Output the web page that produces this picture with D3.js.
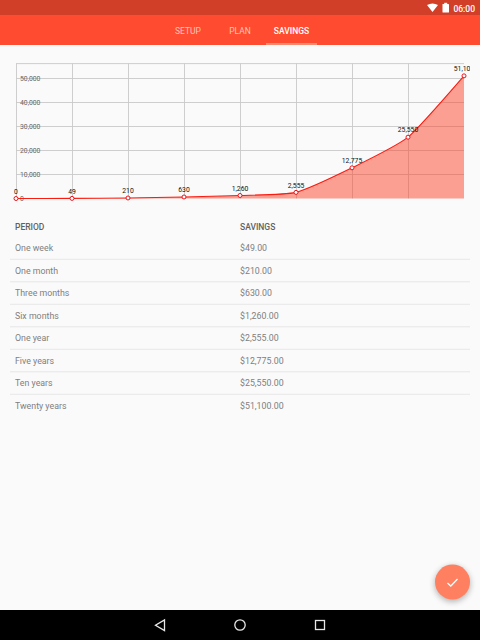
<!DOCTYPE html>
<html>
<head>
<meta charset="utf-8">
<script src="https://cdnjs.cloudflare.com/ajax/libs/d3/7.8.5/d3.min.js"></script>
<style>
html, body { margin: 0; padding: 0; background: #fafafa; overflow: hidden; }
text { font-family: Roboto, sans-serif; }
</style>
</head>
<body>
<div id="chart"></div>
<script>
var points = ["start", "week", "month", "three", "six", "year", "five", "ten", "twenty"];
var savings = [0, 49, 210, 630, 1260, 2555, 12775, 25550, 51100];
var yTicks = [0, 10000, 20000, 30000, 40000, 50000];
var periods = ["One week", "One month", "Three months", "Six months", "One year", "Five years", "Ten years", "Twenty years"];
var amounts = ["$49.00", "$210.00", "$630.00", "$1,260.00", "$2,555.00", "$12,775.00", "$25,550.00", "$51,100.00"];
var tabs = ["SETUP", "PLAN", "SAVINGS"];

var svg = d3.select("#chart").append("svg")
  .attr("width", 480).attr("height", 640)
  .style("display", "block");

var defs = svg.append("defs");
var blur = defs.append("filter").attr("id", "shadow")
  .attr("x", "-50%").attr("y", "-50%").attr("width", "200%").attr("height", "200%");
blur.append("feGaussianBlur").attr("stdDeviation", 3);
defs.append("clipPath").attr("id", "labelClip")
  .append("rect").attr("x", 0).attr("y", 50).attr("width", 470).attr("height", 160);

//status bar and tabs
svg.append("rect").attr("width", 480).attr("height", 15).attr("fill", "#d23f28");
svg.append("rect").attr("y", 15).attr("width", 480).attr("height", 30).attr("fill", "#ff4b30");
svg.append("rect").attr("x", 266).attr("y", 43).attr("width", 51).attr("height", 2).attr("fill", "#ff8a70");

var tabX = d3.scaleOrdinal().domain(tabs).range([188, 240, 291.5]);
svg.selectAll(".tab").data(tabs).enter().append("text")
  .attr("class", "tab")
  .attr("x", function(d) { return tabX(d); })
  .attr("y", 33.5)
  .attr("text-anchor", "middle")
  .attr("font-size", 8.5)
  .attr("font-weight", function(d) { return d == "SAVINGS" ? 500 : 400; })
  .attr("fill", function(d) { return d == "SAVINGS" ? "#fff" : "#ffc4b8"; })
  .text(function(d) { return d; });

//wifi + battery + clock
svg.append("path").attr("d", "M427 5 Q432.5 1.8 438 5 L432.5 12 Z").attr("fill", "#fff");
svg.append("rect").attr("x", 442.5).attr("y", 4).attr("width", 6.5).attr("height", 8.5).attr("rx", 0.6).attr("fill", "#fff");
svg.append("rect").attr("x", 444.2).attr("y", 2.8).attr("width", 3).attr("height", 1.5).attr("fill", "#fff");
svg.append("text").attr("x", 475).attr("y", 11.5).attr("text-anchor", "end")
  .attr("font-size", 8.5).attr("font-weight", 500).attr("fill", "#fff").text("06:00");

//chart
var x = d3.scalePoint().domain(points).range([16, 464]);
var y = d3.scaleLinear().domain([0, 56210]).range([198.5, 63.6]);

var grid = svg.append("g").attr("stroke", "#c8c8c8").attr("stroke-width", 0.9);
grid.selectAll(".v").data(points.slice(0, 8)).enter().append("line")
  .attr("x1", function(d) { return x(d) + 0.5; }).attr("x2", function(d) { return x(d) + 0.5; })
  .attr("y1", y(56210)).attr("y2", y(0));
grid.selectAll(".h").data(yTicks.slice(1)).enter().append("line")
  .attr("x1", 16).attr("x2", 464)
  .attr("y1", function(d) { return y(d); }).attr("y2", function(d) { return y(d); });
grid.append("line").attr("x1", 16).attr("x2", 464).attr("y1", y(56210)).attr("y2", y(56210));

var fmt = d3.format(",");

svg.selectAll(".ytick").data(yTicks).enter().append("text")
  .attr("class", "ytick")
  .attr("x", 20).attr("y", function(d) { return y(d) + 2.3; })
  .attr("font-size", 6.8).attr("fill", "#666")
  .text(function(d) { return fmt(d); });

var curve = d3.curveCardinal.tension(0.45);
var area = d3.area()
  .x(function(d, i) { return x(points[i]); })
  .y0(y(0))
  .y1(function(d) { return Math.min(y(d), y(0)); })
  .curve(curve);
var line = d3.line()
  .x(function(d, i) { return x(points[i]); })
  .y(function(d) { return y(d); })
  .curve(curve);

svg.append("path").attr("d", area(savings)).attr("fill", "rgba(255,60,35,0.48)");
svg.append("path").attr("d", line(savings)).attr("fill", "none").attr("stroke", "#fa1c10").attr("stroke-width", 1.1);

svg.selectAll(".pt").data(savings).enter().append("circle")
  .attr("class", "pt")
  .attr("cx", function(d, i) { return x(points[i]); })
  .attr("cy", function(d) { return y(d); })
  .attr("r", 2)
  .attr("fill", "#fff").attr("stroke", "#e8141a").attr("stroke-width", 1);

svg.append("g").attr("clip-path", "url(#labelClip)")
  .selectAll(".val").data(savings).enter().append("text")
  .attr("class", "val")
  .attr("x", function(d, i) { return x(points[i]); })
  .attr("y", function(d) { return y(d) - 4.8; })
  .attr("text-anchor", "middle")
  .attr("font-size", 6.8).attr("fill", "#111")
  .text(function(d) { return fmt(d); });

//table
var rowY = d3.scalePoint().domain(periods).range([248, 405.5]);

svg.append("text").attr("x", 15).attr("y", 229.5).attr("font-size", 8.5).attr("font-weight", 500).attr("fill", "#616161").text("PERIOD");
svg.append("text").attr("x", 240).attr("y", 229.5).attr("font-size", 8.5).attr("font-weight", 500).attr("fill", "#616161").text("SAVINGS");

svg.selectAll(".period").data(periods).enter().append("text")
  .attr("class", "period")
  .attr("x", 15).attr("y", function(d) { return rowY(d) + 3.2; })
  .attr("font-size", 8.8).attr("fill", "#808080")
  .text(function(d) { return d; });

svg.selectAll(".amount").data(amounts).enter().append("text")
  .attr("class", "amount")
  .attr("x", 240).attr("y", function(d, i) { return rowY(periods[i]) + 3.2; })
  .attr("font-size", 8.8).attr("fill", "#808080")
  .text(function(d) { return d; });

svg.selectAll(".sep").data(periods.slice(0, 7)).enter().append("line")
  .attr("class", "sep")
  .attr("x1", 10).attr("x2", 470)
  .attr("y1", function(d) { return rowY(d) + 11.3; })
  .attr("y2", function(d) { return rowY(d) + 11.3; })
  .attr("stroke", "#e4e4e4").attr("stroke-width", 0.9);

//floating button
svg.append("circle").attr("cx", 452.5).attr("cy", 584).attr("r", 17.5).attr("fill", "#000").attr("opacity", 0.3).attr("filter", "url(#shadow)");
svg.append("circle").attr("cx", 452.5).attr("cy", 582).attr("r", 17.5).attr("fill", "#ff8060");
svg.append("path").attr("d", "M447.5 583 L450.8 586 L457.5 579").attr("fill", "none").attr("stroke", "#fff").attr("stroke-width", 1.3);

//nav bar
svg.append("rect").attr("y", 610).attr("width", 480).attr("height", 30).attr("fill", "#000");
var nav = svg.append("g").attr("fill", "none").attr("stroke", "#e8e8e8").attr("stroke-width", 1.3);
nav.append("path").attr("d", "M164.5 620 L164.5 630.5 L155.5 625.2 Z");
nav.append("circle").attr("cx", 240).attr("cy", 625).attr("r", 5.2);
nav.append("rect").attr("x", 315.5).attr("y", 620.5).attr("width", 9).attr("height", 9);
</script>
</body>
</html>
